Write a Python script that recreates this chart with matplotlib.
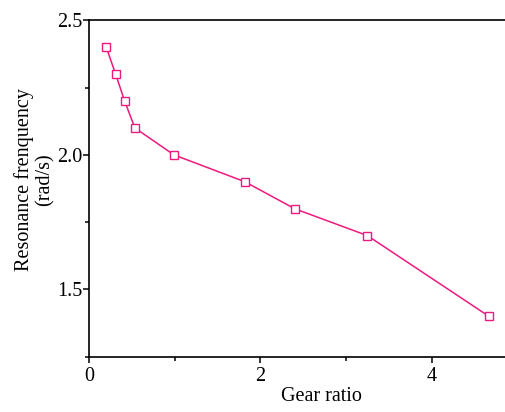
import matplotlib
matplotlib.use("Agg")
import matplotlib.pyplot as plt
from matplotlib.ticker import MultipleLocator

gear_ratio = [0.20, 0.31, 0.415, 0.535, 0.99, 1.82, 2.40, 3.25, 4.67]
res_freq = [2.4, 2.3, 2.2, 2.1, 2.0, 1.9, 1.8, 1.7, 1.4]

plt.rcParams['font.family'] = ['Liberation Serif', 'DejaVu Serif']

fig = plt.figure(figsize=(5.06, 4.12), dpi=100)
ax = fig.add_axes([0.176, 0.134, 0.826, 0.817])
color = '#ee1a7d'
ax.plot(gear_ratio, res_freq, color=color, lw=1.1, marker='s', markersize=6,
        markerfacecolor='white', markeredgecolor=color, markeredgewidth=1.0)

ax.set_xlim(0, 4.88)
ax.set_ylim(1.25, 2.5)
ax.xaxis.set_major_locator(MultipleLocator(2))
ax.xaxis.set_minor_locator(MultipleLocator(1))
ax.yaxis.set_minor_locator(MultipleLocator(0.25))
ax.set_yticks([1.5, 2.0, 2.5])
ax.set_yticklabels(['1.5', '2.0', '2.5'])
ax.spines['right'].set_visible(False)
for s in ['left', 'bottom', 'top']:
    ax.spines[s].set_linewidth(1.2)
ax.tick_params(which='major', direction='out', length=4.5, width=1.1, labelsize=14.5)
ax.tick_params(axis='y', which='major', pad=0.5)
ax.tick_params(axis='x', which='major', pad=2.5)
ax.tick_params(which='minor', direction='out', length=3, width=1.1)
ax.tick_params(top=False, which='both')

ax.set_xlabel('Gear ratio', fontsize=14.5)
ax.xaxis.set_label_coords(0.555, -0.09)
ax.set_ylabel('Resonance frenquency\n(rad/s)', fontsize=14.5, linespacing=1.1)
ax.yaxis.set_label_coords(-0.082, 0.527)

fig.savefig('out.png', dpi=100)
